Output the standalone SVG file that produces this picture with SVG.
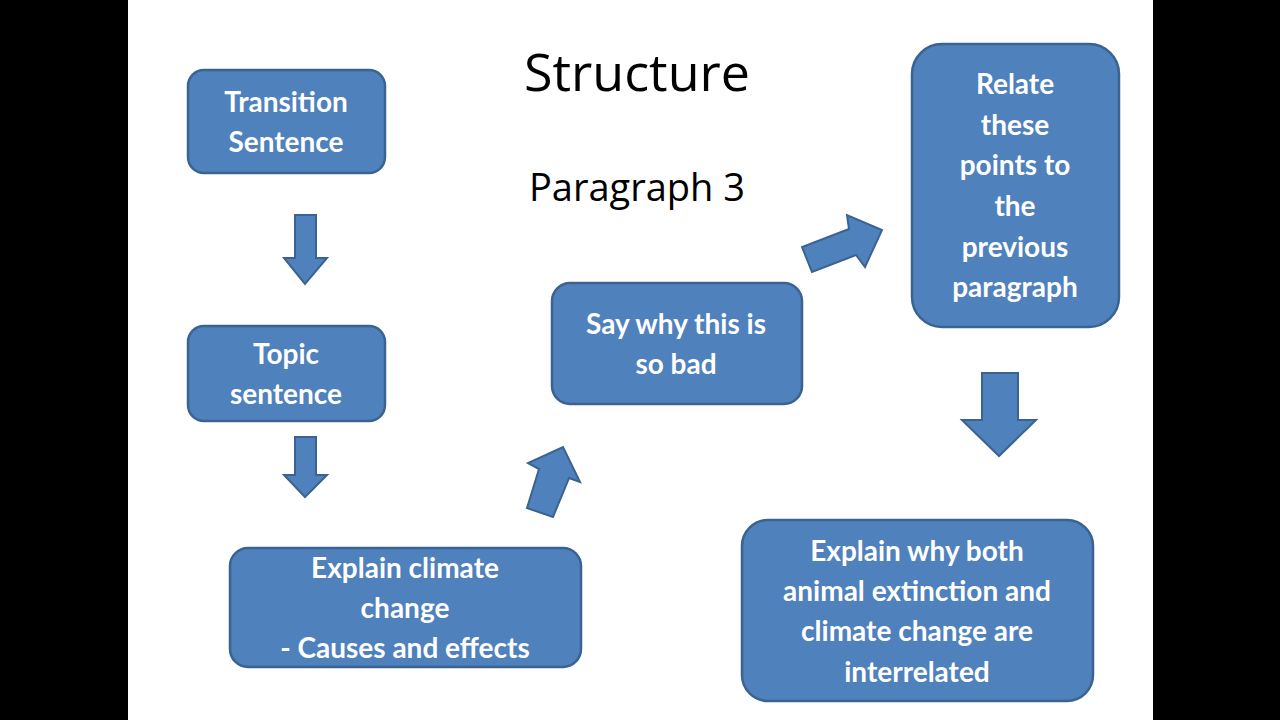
<svg xmlns="http://www.w3.org/2000/svg" width="1280" height="720" viewBox="0 0 1280 720">
<style>
.b{fill:#4F81BD;stroke:#3A6391;stroke-width:2.5}
.t{fill:#fff;font-family:Lato,"Open Sans",sans-serif;font-weight:bold;font-size:28px;text-anchor:middle}
.h{fill:#000;font-family:"Open Sans",Lato,sans-serif;text-anchor:middle}
.a{fill:#4F81BD;stroke:#3A6391;stroke-width:2}
</style>
<rect width="1280" height="720" fill="#000"/>
<rect x="128" y="0" width="1025" height="720" fill="#fff"/>
<text class="h" x="637" y="91" font-size="52">Structure</text>
<text class="h" x="637" y="201" font-size="38">Paragraph 3</text>
<g id="connectors">
<polygon class="a" points="295,215 316,215 316,258 327,258 305,284 284,258 295,258"/>
<polygon class="a" points="295,437 316,437 316,475 327,475 305,497 284,475 295,475"/>
<polygon class="a" points="527,508 553,517 569,478 580,482 563,447 528,463 539,469"/>
<polygon class="a" points="802,247 812,272 856,255 865,267 882,230 847,215 849,229"/>
<polygon class="a" points="982,373 1018,373 1018,420 1036,420 999,456 962,420 982,420"/>
</g>
<g id="n1"><rect class="b" x="188" y="70" width="197" height="103" rx="16"/>
<text class="t" x="286" y="112">Transition</text><text class="t" x="286" y="152">Sentence</text></g>
<g id="n2"><rect class="b" x="188" y="326" width="197" height="95" rx="16"/>
<text class="t" x="286" y="364">Topic</text><text class="t" x="286" y="404">sentence</text></g>
<g id="n3"><rect class="b" x="230" y="548" width="351" height="119" rx="18"/>
<text class="t" x="405" y="578">Explain climate</text><text class="t" x="405" y="618">change</text><text class="t" x="405" y="658">- Causes and effects</text></g>
<g id="n4"><rect class="b" x="552" y="283" width="250" height="121" rx="18"/>
<text class="t" x="676" y="334">Say why this is</text><text class="t" x="676" y="374">so bad</text></g>
<g id="n5"><rect class="b" x="912" y="44" width="207" height="283" rx="30"/>
<text class="t" x="1015" y="94">Relate</text><text class="t" x="1015" y="135">these</text><text class="t" x="1015" y="175">points to</text><text class="t" x="1015" y="216">the</text><text class="t" x="1015" y="257">previous</text><text class="t" x="1015" y="297">paragraph</text></g>
<g id="n6"><rect class="b" x="742" y="520" width="351" height="181" rx="26"/>
<text class="t" x="917" y="561">Explain why both</text><text class="t" x="917" y="601">animal extinction and</text><text class="t" x="917" y="641">climate change are</text><text class="t" x="917" y="682">interrelated</text></g>
</svg>
